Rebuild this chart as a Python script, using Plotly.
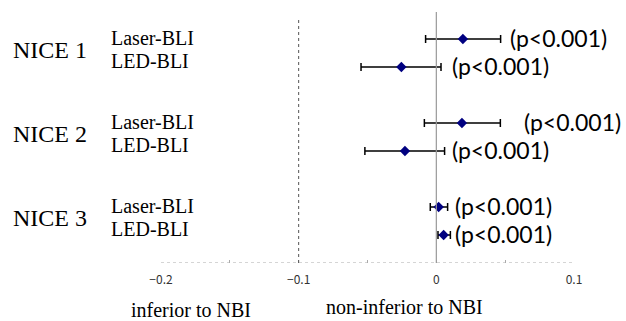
import plotly.graph_objects as go

# ---- data ----
studies = ["NICE 1", "NICE 2", "NICE 3"]
methods = ["Laser-BLI", "LED-BLI"]
row_pos = [0, 1, 3, 4, 6, 7]           # row index of each estimate (top to bottom)
estimate = [0.0193, -0.0254, 0.0186, -0.0228, 0.0017, 0.0053]
ci_low = [-0.0078, -0.0547, -0.0087, -0.0519, -0.0044, 0.0012]
ci_high = [0.0467, 0.0034, 0.0465, 0.0060, 0.0082, 0.0102]
p_labels = ["(p<0.001)"] * 6
margin_line = -0.1
x_ticks = [-0.2, -0.1, 0, 0.1]
x_tick_text = ["\u22120.2", "\u22120.1", "0", "0.1"]
side_labels = ["inferior to NBI", "non-inferior to NBI"]

# ---- figure ----
fig = go.Figure()

fig.add_trace(go.Scatter(
    x=estimate, y=row_pos, mode="markers",
    marker=dict(symbol="diamond", size=8, color="#000080"),
    error_x=dict(type="data", symmetric=False,
                 array=[h - e for h, e in zip(ci_high, estimate)],
                 arrayminus=[e - l for e, l in zip(estimate, ci_low)],
                 color="black", thickness=1.5, width=4),
    showlegend=False, hoverinfo="skip",
))

Y_BOTTOM = 8
Y_TOP = -1.39

# reference lines
fig.add_shape(type="line", xref="x", yref="y", x0=margin_line, x1=margin_line,
              y0=Y_BOTTOM, y1=-0.75, line=dict(color="#555555", width=1, dash="dot"))
fig.add_shape(type="line", xref="x", yref="y", x0=0, x1=0,
              y0=Y_BOTTOM, y1=-0.96, line=dict(color="#999999", width=1.2))
# dotted axis line
fig.add_shape(type="line", xref="x", yref="y", x0=-0.2, x1=0.1,
              y0=Y_BOTTOM, y1=Y_BOTTOM, line=dict(color="#aaaaaa", width=1, dash="dot"))

# p-value labels
p_gap = [0.0050, 0.0062, 0.0160, 0.0038, 0.0036, 0.0016]
for i, r in enumerate(row_pos):
    fig.add_annotation(x=ci_high[i] + p_gap[i], y=r - 0.05, xref="x", yref="y",
                       text=p_labels[i], showarrow=False, xanchor="left", yanchor="middle",
                       font=dict(family="Lato", size=23, color="black"))

# study labels
for k, s in enumerate(studies):
    base = row_pos[2 * k]
    fig.add_annotation(x=-0.362, y=base + 0.4, xref="paper", yref="y", text=s,
                       showarrow=False, xanchor="left", yanchor="middle",
                       font=dict(family="Liberation Serif", size=24, color="black"))
    for j, m in enumerate(methods):
        fig.add_annotation(x=-0.125, y=row_pos[2 * k + j] - 0.05 - 0.15 * j, xref="paper", yref="y",
                           text=m, showarrow=False, xanchor="left", yanchor="middle",
                           font=dict(family="Liberation Serif", size=20, color="black"))

# side labels under the axis
fig.add_annotation(x=-0.178, y=-0.18, xref="x", yref="paper", text=side_labels[0],
                   showarrow=False, xanchor="center", yanchor="middle",
                   font=dict(family="Liberation Serif", size=20, color="black"))
fig.add_annotation(x=-0.0230, y=-0.167, xref="x", yref="paper", text=side_labels[1],
                   showarrow=False, xanchor="center", yanchor="middle",
                   font=dict(family="Liberation Serif", size=20, color="black"))

fig.update_xaxes(range=[-0.2, 0.1], tickvals=x_ticks, ticktext=x_tick_text,
                 ticks="inside", ticklen=3, tickcolor="#aaaaaa", tickwidth=1,
                 minor=dict(dtick=0.05, tick0=-0.2, ticks="inside", ticklen=3, tickcolor="#aaaaaa"),
                 showgrid=False, zeroline=False, showline=False, ticklabelstandoff=8,
                 tickfont=dict(family="Noto Sans CJK JP", size=12, color="#333333"))
fig.update_yaxes(range=[Y_BOTTOM, Y_TOP], visible=False, showgrid=False, zeroline=False)

fig.update_layout(width=626, height=321, margin=dict(l=161, r=52, t=0, b=58),
                  paper_bgcolor="white", plot_bgcolor="white")

fig.write_html("out.html", config={"displayModeBar": False},
               post_script="document.body.style.margin='0';document.body.style.overflow='hidden';")
